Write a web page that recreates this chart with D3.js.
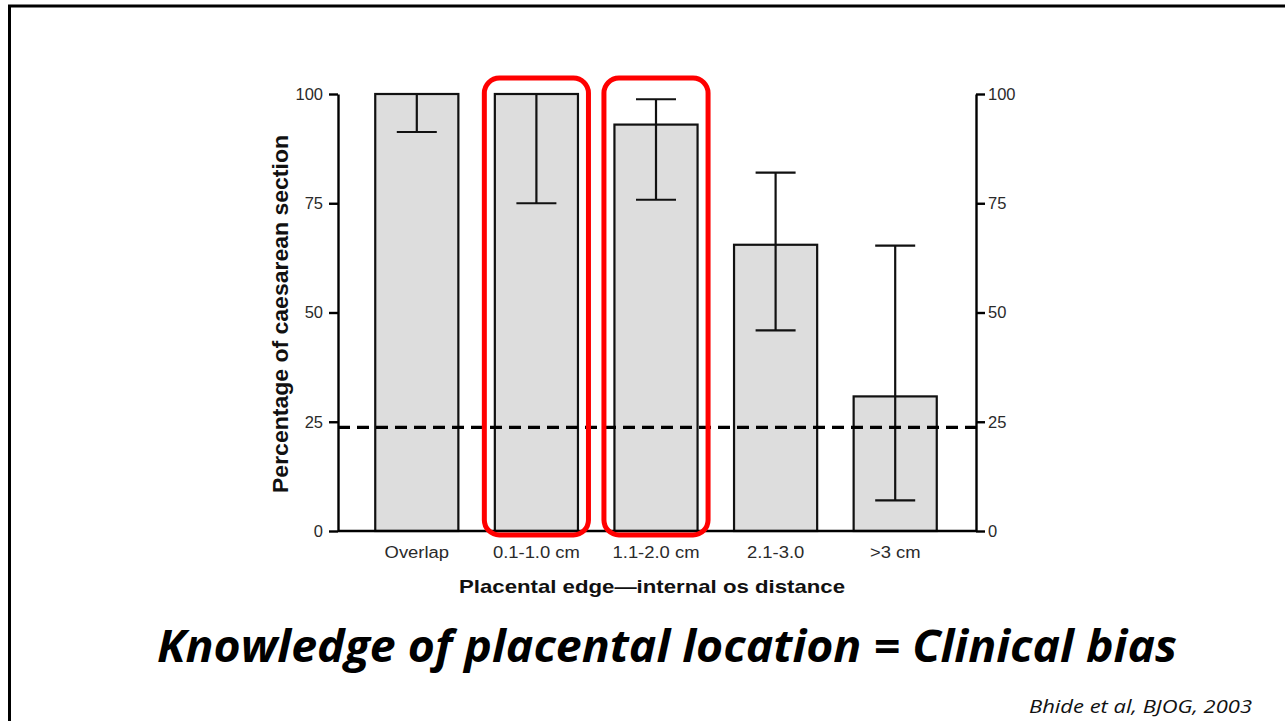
<!DOCTYPE html>
<html><head><meta charset="utf-8">
<script src="https://cdn.jsdelivr.net/npm/d3@7"></script>
<style>body{margin:0;background:#fff}svg{display:block}</style>
</head><body>
<svg id="c" width="1285" height="721"></svg>
<script>
const categories = ["Overlap", "0.1-1.0 cm", "1.1-2.0 cm", "2.1-3.0", ">3 cm"];
const values = [100, 100, 93, 65.5, 30.8];
const errLow = [91.3, 75, 75.8, 45.9, 7];
const errHigh = [100, 100, 98.8, 82, 65.3];
const yTicks = [0, 25, 50, 75, 100];
const referenceLine = 23.7;
const highlighted = ["0.1-1.0 cm", "1.1-2.0 cm"];

const svg = d3.select("#c");
// slide frame
svg.append("path").attr("d","M9.5,721 V6 H1285").attr("fill","none").attr("stroke","#000").attr("stroke-width",3);

const x0 = 338, x1 = 976, yTop = 94, yBot = 531;
const y = d3.scaleLinear().domain([0,100]).range([yBot,yTop]);
const x = d3.scaleBand().domain(categories).range([357,955]).paddingInner(0.305).paddingOuter(0.1525);

const g = svg.append("g");
g.selectAll("rect.bar").data(categories).join("rect")
  .attr("x", d=>x(d)).attr("width", x.bandwidth())
  .attr("y", (d,i)=>y(values[i])).attr("height",(d,i)=>y(0)-y(values[i]))
  .attr("fill","#dddddd").attr("stroke","#111").attr("stroke-width",2.2);

const capW = 40;
categories.forEach((c,i)=>{
  const cx = x(c)+x.bandwidth()/2;
  g.append("line").attr("x1",cx).attr("x2",cx).attr("y1",y(errLow[i])).attr("y2",y(errHigh[i])).attr("stroke","#111").attr("stroke-width",2.2);
  [errLow[i], errHigh[i]].forEach(v=>{
    g.append("line").attr("x1",cx-capW/2).attr("x2",cx+capW/2).attr("y1",y(v)).attr("y2",y(v)).attr("stroke","#111").attr("stroke-width",2.2);
  });
});

const fontAxis = "Liberation Sans, Arial, sans-serif";
const yl = svg.append("g").attr("transform",`translate(${x0},0)`).call(d3.axisLeft(y).tickValues(yTicks).tickSize(9).tickSizeOuter(0).tickPadding(6));
const yr = svg.append("g").attr("transform",`translate(${x1},0)`).call(d3.axisRight(y).tickValues(yTicks).tickSize(9).tickSizeOuter(0).tickPadding(3));
[yl,yr].forEach(a=>{
  a.select(".domain").attr("stroke","#000").attr("stroke-width",2.4);
  a.selectAll(".tick line").attr("stroke","#000").attr("stroke-width",2.4);
  a.selectAll(".tick text").attr("font-family",fontAxis).attr("font-size",16.5).attr("fill","#2a2a2a");
});
svg.append("line").attr("x1",x0).attr("x2",x1).attr("y1",yBot).attr("y2",yBot).attr("stroke","#000").attr("stroke-width",2.4);

// x category labels (slightly wide glyphs as in the source figure)
svg.selectAll("text.cat").data(categories).join("text")
  .attr("x", d=>x(d)+x.bandwidth()/2).attr("y", 558)
  .attr("text-anchor","middle").attr("font-family",fontAxis).attr("font-size",16).attr("fill","#2a2a2a")
  .text(d=>d)
  .each(function(){ const L=this.getComputedTextLength(); d3.select(this).attr("textLength",L*1.15).attr("lengthAdjust","spacingAndGlyphs"); });

svg.append("line").attr("x1",x0).attr("x2",x1).attr("y1",y(referenceLine)).attr("y2",y(referenceLine))
  .attr("stroke","#000").attr("stroke-width",3.2).attr("stroke-dasharray","12,7");

highlighted.forEach(c=>{
  svg.append("rect").attr("x", x(c)-10.5).attr("width", x.bandwidth()+21)
    .attr("y", y(100)-16).attr("height", y(0)-y(100)+20)
    .attr("rx",15).attr("ry",15).attr("fill","none").attr("stroke","#ff0000").attr("stroke-width",5);
});

svg.append("text").attr("transform","translate(288,314) rotate(-90)")
  .attr("text-anchor","middle").attr("font-family",fontAxis).attr("font-weight","bold").attr("font-size",22).attr("fill","#111")
  .attr("textLength",358).attr("lengthAdjust","spacingAndGlyphs")
  .text("Percentage of caesarean section");
svg.append("text").attr("x",652).attr("y",593)
  .attr("text-anchor","middle").attr("font-family",fontAxis).attr("font-weight","bold").attr("font-size",19).attr("fill","#111")
  .attr("textLength",386).attr("lengthAdjust","spacingAndGlyphs")
  .text("Placental edge\u2014internal os distance");

svg.append("text").attr("x",667).attr("y",662)
  .attr("text-anchor","middle").attr("font-family","Open Sans, sans-serif").attr("font-weight","bold").attr("font-style","italic").attr("font-size",45).attr("fill","#000")
  .attr("textLength",1020).attr("lengthAdjust","spacingAndGlyphs")
  .text("Knowledge of placental location = Clinical bias");
svg.append("text").attr("x",1252).attr("y",713)
  .attr("text-anchor","end").attr("font-family","Open Sans, sans-serif").attr("font-style","italic").attr("font-size",18).attr("fill","#111")
  .attr("textLength",223).attr("lengthAdjust","spacingAndGlyphs")
  .text("Bhide et al, BJOG, 2003");
</script>
</body></html>
